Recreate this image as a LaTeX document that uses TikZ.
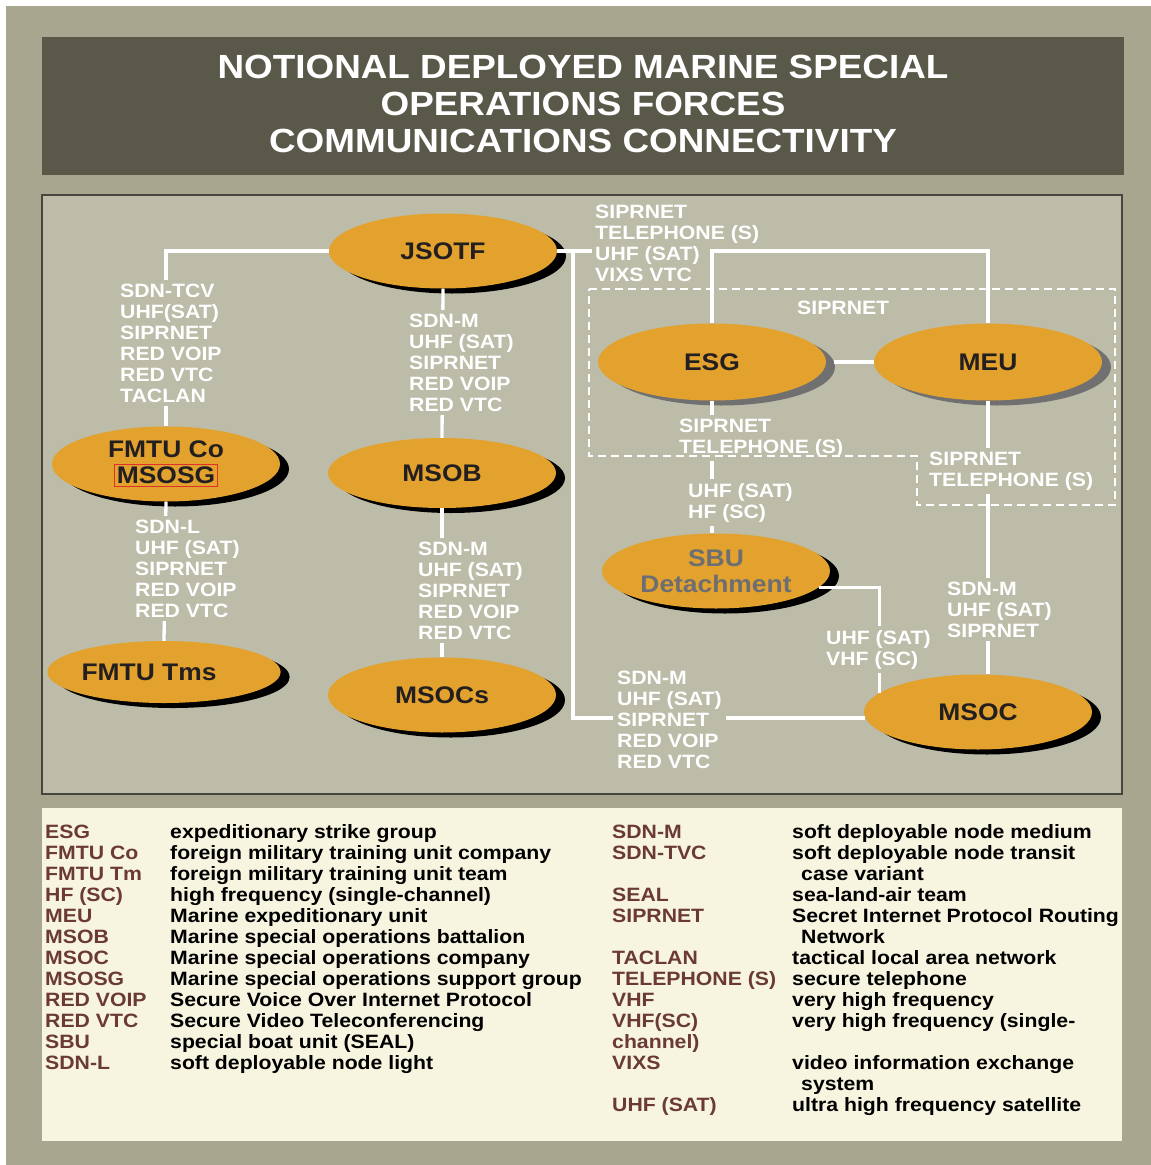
\documentclass[tikz,border=0pt]{standalone}
\usepackage{fontspec}
\usepackage{xcolor}
\usepackage{tikz}
\usetikzlibrary{positioning, shapes.geometric, shadows}
\newfontfamily\hvfont{Liberation Sans}[FakeStretch=1.1]
\definecolor{frame_col}{RGB}{168, 166, 142}
\definecolor{title_col}{RGB}{90, 88, 73}
\definecolor{panel_col}{RGB}{189, 188, 168}
\definecolor{edge_col}{RGB}{70, 70, 62}
\definecolor{unit_col}{RGB}{227, 162, 46}
\definecolor{text_col}{RGB}{35, 31, 32}
\definecolor{sbu_col}{RGB}{109, 110, 113}
\definecolor{shade_col}{RGB}{112, 112, 112}
\definecolor{key_col}{RGB}{107, 58, 51}
\definecolor{legend_col}{RGB}{247, 244, 224}
\definecolor{mark_col}{RGB}{224, 48, 42}
\newcommand{\TitleFont}{\hvfont\bfseries\fontsize{33.5}{37}\selectfont}
\newcommand{\UnitFont}{\hvfont\bfseries\fontsize{24}{26}\selectfont}
\newcommand{\LinkFont}{\hvfont\bfseries\fontsize{19.3}{21}\selectfont}

\begin{document}
\begin{tikzpicture}[
    x=1pt, y=-1pt,
    ns/.style={ellipse, minimum width=228pt, minimum height=75pt, inner sep=0pt,
               fill=unit_col, text=text_col, font=\UnitFont, align=center},
    unit/.style={ns, general shadow={fill=black, shadow xshift=9pt, shadow yshift=-5pt}},
    unitg/.style={ns, general shadow={fill=shade_col, shadow xshift=9pt, shadow yshift=-5pt}},
    link/.style={draw=white, line width=3.3pt},
    lbl/.style={font=\LinkFont, text=white, align=left, anchor=base west,
                inner sep=4pt, fill=panel_col},
    freelbl/.style={lbl, fill=none},
    key/.style={font=\LinkFont, text=key_col, anchor=base west, inner sep=0pt},
    desc/.style={font=\LinkFont, text=black, anchor=base west, inner sep=0pt},
]
  \useasboundingbox (0,0) rectangle (1151,1165);
  \fill[frame_col] (6,6) rectangle (1151,1165);

  % title band (base = last line)
  \fill[title_col] (42,37) rectangle (1124,175);
  \node[font=\TitleFont, text=white, align=center, anchor=base] (title) at (583,152)
    {NOTIONAL DEPLOYED MARINE SPECIAL\\OPERATIONS FORCES\\COMMUNICATIONS CONNECTIVITY};

  \filldraw[fill=panel_col, draw=edge_col, line width=1.2pt] (42,195) rectangle (1122,794);
  \fill[legend_col] (42,808) rectangle (1122,1141);

  % units
  \node[unit] (JSOTF) at (443,251) {JSOTF};
  \node[unit] (FMTUco) at (166,464)
    {FMTU Co\\\setlength{\fboxsep}{2pt}\setlength{\fboxrule}{0.7pt}\fcolorbox{mark_col}{unit_col}{MSOSG}};
  \node[unit, minimum height=70pt] (MSOB) at (442,473) {MSOB};
  \node[unit, minimum height=62pt] (FMTUtm) at (164,672) {FMTU Tms\hspace*{30pt}};
  \node[unit] (MSOCs) at (442,695) {MSOCs};
  \node[unitg, minimum height=77pt] (ESG) at (712,362) {ESG};
  \node[unitg, minimum height=77pt] (MEU) at (988,362) {MEU};
  \node[unit, text=sbu_col] (SBU) at (716,571) {SBU\\Detachment};
  \node[unit] (MSOC) at (978,712) {MSOC};

  \coordinate (jtap) at (573,251);
  \coordinate (jstub) at (592,251);
  \coordinate (bus) at (ESG.north |- JSOTF.east);

  % connectors
  \draw[link] (JSOTF.west) -| (FMTUco.north);
  \draw[link] (JSOTF.south) -- (MSOB.north);
  \draw[link] (FMTUco.south) -- (FMTUtm.north);
  \draw[link] (MSOB.south) -- (MSOCs.north);
  \draw[link] (JSOTF.east) -- (jstub);
  \draw[link] (jtap) |- (MSOC.183);
  \draw[link] (ESG.north) -- (bus) -| (MEU.north);
  \draw[link] ([xshift=8pt]ESG.east) -- (MEU.west);
  \draw[link] (ESG.south) -- (ESG.south |- SBU.north);
  \draw[link] (MEU.south) -- (MEU.south |- MSOC.north);
  \draw[link] (SBU.-9) -| (MSOC.169);

  % link labels, placed at the baseline of their last line
  \node[lbl] (lblA) at (116,402) {SDN-TCV\\UHF(SAT)\\SIPRNET\\RED VOIP\\RED VTC\\TACLAN};
  \node[lbl] (lblB) at (405,411) {SDN-M\\UHF (SAT)\\SIPRNET\\RED VOIP\\RED VTC};
  \node[lbl] (lblC) at (131,617) {SDN-L\\UHF (SAT)\\SIPRNET\\RED VOIP\\RED VTC};
  \node[lbl] (lblD) at (414,639) {SDN-M\\UHF (SAT)\\SIPRNET\\RED VOIP\\RED VTC};
  \node[freelbl] (lblE) at (591,281) {SIPRNET\\TELEPHONE (S)\\UHF (SAT)\\VIXS VTC};
  \node[freelbl] (lblF) at (793,314) {SIPRNET};
  \node[lbl] (lblG) at (675,453) {SIPRNET\\TELEPHONE (S)};
  \node[lbl] (lblH) at (684,518) {UHF (SAT)\\HF (SC)};
  \node[lbl] (lblI) at (925,486) {SIPRNET\\TELEPHONE (S)};
  \node[lbl] (lblJ) at (943,637) {SDN-M\\UHF (SAT)\\SIPRNET};
  \node[lbl] (lblK) at (822,665) {UHF (SAT)\\VHF (SC)};
  \node[lbl] (lblL) at (613,768) {SDN-M\\UHF (SAT)\\SIPRNET\\RED VOIP\\RED VTC};

  % ESG/MEU group
  \draw[white, line width=2.5pt, dash pattern=on 8pt off 5pt]
    (589,289) -- (1115,289) -- (1115,505) -- (917,505) -- (917,456) -- (589,456) -- cycle;

  % legend
  \foreach \i/\k/\d in {0/ESG/expeditionary strike group,
      1/FMTU Co/foreign military training unit company,
      2/FMTU Tm/foreign military training unit team,
      3/HF (SC)/high frequency (single-channel),
      4/MEU/Marine expeditionary unit,
      5/MSOB/Marine special operations battalion,
      6/MSOC/Marine special operations company,
      7/MSOSG/Marine special operations support group,
      8/RED VOIP/Secure Voice Over Internet Protocol,
      9/RED VTC/Secure Video Teleconferencing,
      10/SBU/special boat unit (SEAL),
      11/SDN-L/soft deployable node light}{
    \node[key] (lk\i) at (45,838.5+21*\i) {\k};
    \node[desc] (ld\i) at (170,838.5+21*\i) {\d};
  }
  \foreach \i/\k/\d in {0/SDN-M/soft deployable node medium,
      1/SDN-TVC/soft deployable node transit,
      2//{\hspace*{9pt}case variant},
      3/SEAL/sea-land-air team,
      4/SIPRNET/Secret Internet Protocol Routing,
      5//{\hspace*{9pt}Network},
      6/TACLAN/tactical local area network,
      7/TELEPHONE (S)/secure telephone,
      8/VHF/very high frequency,
      9/VHF(SC)/very high frequency (single-,
      10/channel)/,
      11/VIXS/video information exchange,
      12//{\hspace*{9pt}system},
      13/UHF (SAT)/ultra high frequency satellite}{
    \node[key] (rk\i) at (612,838.5+21*\i) {\k};
    \node[desc] (rd\i) at (792,838.5+21*\i) {\d};
  }
\end{tikzpicture}
\end{document}
